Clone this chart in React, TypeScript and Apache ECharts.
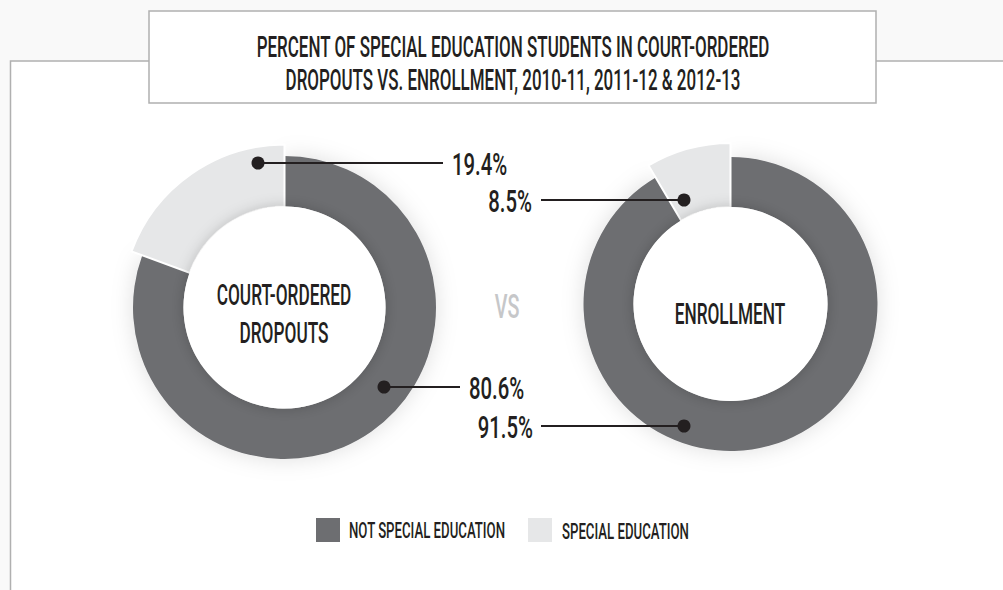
import React, { useEffect, useRef } from "react";
import * as echarts from "echarts";

const categories = ["NOT SPECIAL EDUCATION", "SPECIAL EDUCATION"];
const courtOrderedValues = [80.6, 19.4];
const enrollmentValues = [91.5, 8.5];
const centerTitles = [["COURT-ORDERED", "DROPOUTS"], ["ENROLLMENT"]];
const titleLines = [
  "PERCENT OF SPECIAL EDUCATION STUDENTS IN COURT-ORDERED",
  "DROPOUTS VS. ENROLLMENT, 2010-11, 2011-12 & 2012-13",
];

const DARK = "#6d6e71";
const LIGHT = "#e6e7e8";
const INK = "#231f20";
const FRAME = "#b0b0b0";
const FONT = "Roboto";

function donutSeries(values: number[], center: number[], inner: number, outerDark: number, outerLight: number) {
  const base = {
    type: "pie",
    center,
    startAngle: 90,
    clockwise: true,
    silent: true,
    label: { show: false },
    labelLine: { show: false },
    emphasis: { disabled: true },
  };
  return [
    {
      ...base,
      z: 1,
      radius: [0, inner],
      data: [{ value: 1, itemStyle: { color: "#ffffff", shadowBlur: 14, shadowColor: "rgba(0,0,0,0.2)" } }],
    },
    {
      ...base,
      z: 0,
      radius: [inner, outerDark],
      data: [
        { name: categories[0], value: values[0], itemStyle: { color: DARK, shadowBlur: 22, shadowColor: "rgba(0,0,0,0.13)" } },
        { name: categories[1], value: values[1], itemStyle: { color: "transparent" } },
      ],
    },
    {
      ...base,
      z: 0,
      radius: [inner, outerLight],
      data: [
        { name: categories[0], value: values[0], itemStyle: { color: "transparent" } },
        { name: categories[1], value: values[1], itemStyle: { color: LIGHT, borderColor: "#ffffff", borderWidth: 2 } },
      ],
    },
  ];
}

function txt(text: string, x: number, y: number, size: number, align: string, sx: number, fill = INK, weight = 500) {
  return {
    type: "text",
    x,
    y,
    scaleX: sx,
    z: 20,
    silent: true,
    style: {
      text,
      font: `${weight} ${size}px ${FONT}`,
      fill,
      textAlign: align,
      textVerticalAlign: "middle",
      align,
      verticalAlign: "middle",
    },
  };
}

function callout(value: number, dot: number[], lineEnd: number, textX: number, align: string) {
  return [
    { type: "line", z: 19, silent: true, shape: { x1: dot[0], y1: dot[1], x2: lineEnd, y2: dot[1] }, style: { stroke: INK, lineWidth: 2 } },
    { type: "circle", z: 19, silent: true, shape: { cx: dot[0], cy: dot[1], r: 6.5 }, style: { fill: INK } },
    txt(`${value}%`, textX, dot[1] + 1, 32, align, 0.635),
  ];
}

export default function App() {
  const ref = useRef<HTMLDivElement>(null);
  useEffect(() => {
    if (!ref.current) return;
    const chart = echarts.init(ref.current, undefined, { renderer: "svg" });
    const graphic: any[] = [
      { type: "rect", z: -10, silent: true, shape: { x: 10.5, y: 61, width: 1010, height: 560 }, style: { fill: "#ffffff", stroke: FRAME, lineWidth: 1.5 } },
      { type: "rect", z: -5, silent: true, shape: { x: 149, y: 11, width: 727, height: 92 }, style: { fill: "#ffffff", stroke: FRAME, lineWidth: 1.5 } },
      txt(titleLines[0], 513, 47, 29, "center", 0.585),
      txt(titleLines[1], 513, 80, 29, "center", 0.585),
      txt(centerTitles[0][0], 284, 295, 30, "center", 0.575),
      txt(centerTitles[0][1], 284, 333, 30, "center", 0.575),
      txt(centerTitles[1][0], 730, 314, 30, "center", 0.575),
      txt("VS", 507, 306, 34, "center", 0.58, "#c6c7c9"),
      ...callout(courtOrderedValues[1], [258, 163], 443, 452, "left"),
      ...callout(courtOrderedValues[0], [384, 387], 460, 469, "left"),
      ...callout(enrollmentValues[1], [684, 200], 541, 532, "right"),
      ...callout(enrollmentValues[0], [684, 426], 541, 533, "right"),
      { type: "rect", z: 10, silent: true, shape: { x: 316, y: 518, width: 24, height: 24 }, style: { fill: DARK } },
      txt(categories[0], 349, 530, 22, "left", 0.6),
      { type: "rect", z: 10, silent: true, shape: { x: 528, y: 518, width: 24, height: 24 }, style: { fill: LIGHT } },
      txt(categories[1], 562, 531, 22, "left", 0.6),
    ];
    chart.setOption({
      animation: false,
      backgroundColor: "#f9f9f9",
      series: [
        ...donutSeries(courtOrderedValues, [284.5, 307.5], 101, 151.5, 163),
        ...donutSeries(enrollmentValues, [730.5, 304], 97, 147, 161),
      ],
      graphic,
    });
    return () => chart.dispose();
  }, []);
  return <div ref={ref} style={{ position: "fixed", left: 0, top: 0, width: 1003, height: 590 }} />;
}
